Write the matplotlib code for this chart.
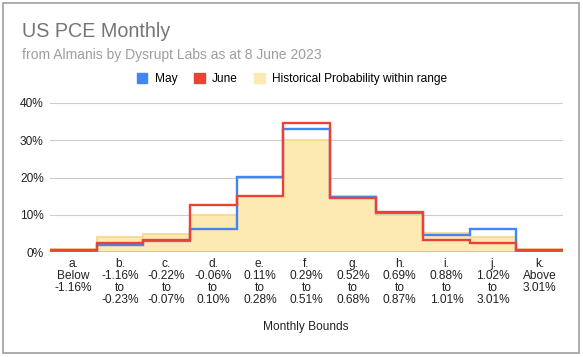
import matplotlib
matplotlib.use("Agg")
import matplotlib.pyplot as plt
from matplotlib.patches import Rectangle, Patch
import numpy as np

# Значения (в процентах)
bins = ["a.", "b.", "c.", "d.", "e.", "f.", "g.", "h.", "i.", "j.", "k."]
bounds = [
    "Below\n-1.16%",
    "-1.16%\nto\n-0.23%",
    "-0.22%\nto\n-0.07%",
    "-0.06%\nto\n0.10%",
    "0.11%\nto\n0.28%",
    "0.29%\nto\n0.51%",
    "0.52%\nto\n0.68%",
    "0.69%\nto\n0.87%",
    "0.88%\nto\n1.01%",
    "1.02%\nto\n3.01%",
    "Above\n3.01%",
]
may = [0.2, 2.0, 3.0, 6.2, 20.2, 32.9, 14.8, 10.5, 4.5, 6.3, 0.2]
june = [0.6, 2.6, 3.2, 12.7, 15.1, 34.5, 14.5, 10.8, 3.2, 2.5, 0.5]
historical = [0.9, 4.1, 4.9, 10.0, 15.0, 30.0, 15.0, 10.0, 5.1, 4.2, 0.9]
y_ticks = [0, 10, 20, 30, 40]

BLUE = "#4285f4"
RED = "#ea4335"
FILL = "#fde9b2"
FILL_EDGE = "#f7d68c"

plt.rcParams["font.family"] = "Liberation Sans"

W, H = 583, 357
fig = plt.figure(figsize=(W / 100, H / 100), dpi=100)
ax = fig.add_axes([50 / W, 1 - 252.3 / H, 513 / W, 149.5 / H])

edges = np.arange(len(bins) + 1)
ax.stairs(historical, edges, fill=True, color=FILL, zorder=2)
ax.stairs(historical, edges, baseline=None, color=FILL_EDGE, linewidth=1.2, zorder=2.5)
ax.stairs(may, edges, baseline=None, color=BLUE, linewidth=1.7, zorder=4)
ax.stairs(june, edges, baseline=None, color=RED, linewidth=1.7, zorder=5)

ax.set_xlim(0, len(bins))
ax.set_ylim(0, 40)
ax.set_yticks(y_ticks)
ax.set_yticklabels([f"{v}%" for v in y_ticks], fontsize=8.6, color="#222222")
for v in y_ticks[1:]:
    ax.axhline(v, color="#cccccc", linewidth=0.8, zorder=1)
ax.axhline(0, color="#333333", linewidth=1.0, zorder=3)

ax.set_xticks(edges[:-1] + 0.5)
ax.set_xticklabels([f"{b}\n{t}" for b, t in zip(bins, bounds)],
                   fontsize=8.6, color="#222222", linespacing=1.0, va="top")
ax.tick_params(length=0, pad=4)
ax.tick_params(axis="y", pad=4.5)
for s in ax.spines.values():
    s.set_visible(False)

fig.text(306 / W, 1 - 327 / H, "Monthly Bounds", ha="center", va="center",
         fontsize=8.6, color="#222222")

fig.text(22 / W, 1 - 37.3 / H, "US PCE Monthly", ha="left", va="baseline",
         fontsize=14.2, color="#757575")
fig.text(22 / W, 1 - 59.3 / H, "from Almanis by Dysrupt Labs as at 8 June 2023",
         ha="left", va="baseline", fontsize=10, color="#9e9e9e")

handles = [Patch(color=BLUE), Patch(color=RED), Patch(color=FILL)]
fig.legend(handles, ["May", "June", "Historical Probability within range"],
           loc="center", bbox_to_anchor=(292 / W, 1 - 79 / H), ncol=3,
           frameon=False, fontsize=8.6, handlelength=0.9, handleheight=0.9,
           handletextpad=0.6, columnspacing=1.4)

fig.patches.append(Rectangle((3 / W, 1 - 353 / H), 576 / W, 350 / H,
                             transform=fig.transFigure, fill=False,
                             edgecolor="#9e9e9e", linewidth=1.2))

fig.savefig("out.png", dpi=100)
